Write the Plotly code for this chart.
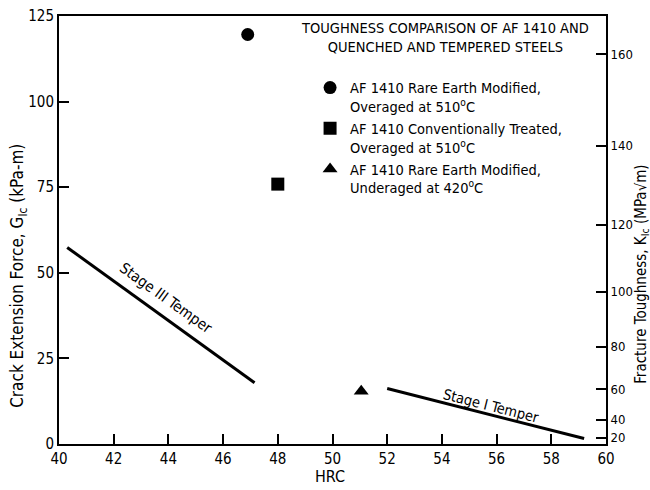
import plotly.graph_objects as go

# Hardness (HRC) and crack extension force G_Ic (kPa-m) for the three AF 1410 conditions
series_names = [
    "AF 1410 Rare Earth Modified,<br>Overaged at 510<sup>o</sup>C",
    "AF 1410 Conventionally Treated,<br>Overaged at 510<sup>o</sup>C",
    "AF 1410 Rare Earth Modified,<br>Underaged at 420<sup>o</sup>C",
]
series_hrc = [46.9, 48.0, 51.05]
series_gic = [119.6, 75.9, 15.4]
series_symbols = ["circle", "square", "triangle-up"]

# Trend bands for quenched and tempered steels
stage3_hrc = [40.3, 47.15]
stage3_gic = [57.4, 17.9]
stage1_hrc = [52.0, 59.2]
stage1_gic = [16.2, 1.6]

# Right axis: fracture toughness K_Ic, G = K^2 / E'
k_ticks = [20, 40, 60, 80, 100, 120, 140, 160]
e_prime_gpa = 225.0

x_ticks = list(range(40, 61, 2))
y_ticks = [0, 25, 50, 75, 100, 125]

FONT = "DejaVu Sans Condensed, Liberation Sans Narrow, Arial Narrow, sans-serif"

fig = go.Figure()

fig.add_trace(go.Scatter(x=stage3_hrc, y=stage3_gic, mode="lines",
                         line=dict(color="black", width=3), showlegend=False))
fig.add_trace(go.Scatter(x=stage1_hrc, y=stage1_gic, mode="lines",
                         line=dict(color="black", width=3), showlegend=False))

for name, hx, gy, sym in zip(series_names, series_hrc, series_gic, series_symbols):
    fig.add_trace(go.Scatter(x=[hx], y=[gy], mode="markers", name=name,
                             marker=dict(symbol=sym, size=13, color="black")))

# invisible trace carrying the secondary axis
fig.add_trace(go.Scatter(x=[40], y=[0], yaxis="y2", mode="markers",
                         marker=dict(opacity=0), showlegend=False, hoverinfo="skip"))

k_pos = [k * k / e_prime_gpa for k in k_ticks]

axis_common = dict(ticks="inside", ticklen=10, tickwidth=1.5, tickcolor="black",
                   showline=True, linecolor="black", linewidth=2,
                   showgrid=False, zeroline=False, automargin=False)

fig.update_layout(
    width=650, height=490,
    margin=dict(l=59, r=44, t=16, b=46),
    paper_bgcolor="white", plot_bgcolor="white",
    font=dict(family=FONT, size=14, color="black"),
    xaxis=dict(range=[40, 60], tickvals=x_ticks, mirror=True,
               tickfont=dict(size=15), **axis_common),
    yaxis=dict(range=[0, 125], tickvals=y_ticks, tickfont=dict(size=15), **axis_common),
    yaxis2=dict(range=[0, 125], overlaying="y", side="right",
                tickvals=k_pos, ticktext=[str(k) for k in k_ticks],
                tickfont=dict(size=13), **axis_common),
    legend=dict(x=0.459, y=0.87, xanchor="left", yanchor="top",
                bgcolor="rgba(0,0,0,0)", font=dict(size=14.5),
                valign="top", tracegroupgap=3, itemwidth=30),
    showlegend=True,
)

# axis titles
fig.add_annotation(xref="paper", yref="paper", x=0.495, y=-0.075, text="HRC",
                   showarrow=False, font=dict(size=16), xanchor="center", yanchor="middle")
fig.add_annotation(xref="paper", yref="paper", x=-0.073, y=0.393, textangle=-90,
                   text="Crack Extension Force, G<sub>Ic</sub> (kPa-m)",
                   showarrow=False, font=dict(size=17), xanchor="center", yanchor="middle")
fig.add_annotation(xref="paper", yref="paper", x=1.0635, y=0.397, textangle=-90,
                   text="Fracture Toughness, K<sub>Ic</sub> (MPa\u221am)",
                   showarrow=False, font=dict(size=15), xanchor="center", yanchor="middle")

fig.add_annotation(xref="paper", yref="paper", x=0.706, y=0.996, xanchor="center",
                   yanchor="top", showarrow=False,
                   text="TOUGHNESS COMPARISON OF AF 1410 AND<br>QUENCHED AND TEMPERED STEELS",
                   font=dict(size=14.5))
fig.add_annotation(x=43.9, y=42.5, text="Stage III Temper", textangle=35.6,
                   showarrow=False, font=dict(size=15))
fig.add_annotation(x=55.8, y=11.2, text="Stage I Temper", textangle=14.2,
                   showarrow=False, font=dict(size=14.5))

fig.write_html("out.html")
